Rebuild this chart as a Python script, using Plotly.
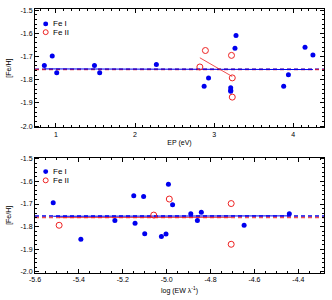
import numpy as np
import plotly.graph_objects as go
from plotly.subplots import make_subplots

# Top panel: [Fe/H] vs excitation potential
ep_fe1 = [0.853, 0.953, 1.01, 1.487, 1.553, 2.27, 3.277, 3.264, 2.93, 2.874, 3.21, 3.21, 3.21, 3.88, 3.94, 4.15, 4.25]
fe1_top = [-1.739, -1.698, -1.770, -1.739, -1.770, -1.734, -1.609, -1.664, -1.792, -1.828, -1.835, -1.845, -1.850, -1.828, -1.779, -1.660, -1.693]
ep_fe2 = [2.82, 2.89, 3.22, 3.23, 3.23]
fe2_top = [-1.745, -1.674, -1.695, -1.792, -1.875]

# Bottom panel: [Fe/H] vs log(EW/lambda)
rew_fe1 = [-5.517, -5.391, -5.236, -5.150, -5.144, -5.105, -5.100, -5.024, -5.003, -4.992, -4.973, -4.890, -4.860, -4.842, -4.647, -4.441]
fe1_bot = [-1.695, -1.856, -1.773, -1.664, -1.785, -1.667, -1.831, -1.844, -1.833, -1.613, -1.703, -1.743, -1.773, -1.737, -1.794, -1.743]
rew_fe2 = [-5.490, -5.059, -4.988, -4.706, -4.706]
fe2_bot = [-1.794, -1.749, -1.678, -1.698, -1.878]

y_ticks = [-2.0, -1.9, -1.8, -1.7, -1.6, -1.5]
y_labels = ["-2.0", "-1.9", "-1.8", "-1.7", "-1.6", "-1.5"]
x_top_ticks = [1, 2, 3, 4]
x_top_labels = ["1", "2", "3", "4"]
x_bot_ticks = [-5.6, -5.4, -5.2, -5.0, -4.8, -4.6, -4.4]
x_bot_labels = ["-5.6", "-5.4", "-5.2", "-5.0", "-4.8", "-4.6", "-4.4"]
legend_names = ["Fe I", "Fe II"]

BLUE = "#0000ee"
RED = "#ee2222"
FONT = "Liberation Sans"

fig = make_subplots(rows=2, cols=1, vertical_spacing=0.115)

def add_panel(row, x1, y1, x2, y2, xr):
    x1 = np.array(x1); y1 = np.array(y1); x2 = np.array(x2); y2 = np.array(y2)
    m1 = y1.mean(); m2 = y2.mean()
    fig.add_trace(go.Scatter(x=xr, y=[m1, m1], mode="lines", line=dict(color=BLUE, width=1.5, dash="4px,3px"),
                             showlegend=False, hoverinfo="skip"), row=row, col=1)
    fig.add_trace(go.Scatter(x=xr, y=[m2, m2], mode="lines", line=dict(color=RED, width=1.5, dash="4px,3px"),
                             showlegend=False, hoverinfo="skip", opacity=0.8), row=row, col=1)
    p1 = np.polyfit(x1, y1, 1)
    fx1 = np.array([x1.min(), x1.max()])
    fig.add_trace(go.Scatter(x=fx1, y=np.polyval(p1, fx1), mode="lines", line=dict(color=BLUE, width=1),
                             showlegend=False, hoverinfo="skip"), row=row, col=1)
    p2 = np.polyfit(x2, y2, 1)
    fx2 = np.array([x2.min(), x2.max()])
    fig.add_trace(go.Scatter(x=fx2, y=np.polyval(p2, fx2), mode="lines", line=dict(color=RED, width=1),
                             showlegend=False, hoverinfo="skip", opacity=0.8), row=row, col=1)
    fig.add_trace(go.Scatter(x=x1, y=y1, mode="markers", name=legend_names[0],
                             marker=dict(color=BLUE, size=5, symbol="circle"),
                             showlegend=False), row=row, col=1)
    fig.add_trace(go.Scatter(x=x2, y=y2, mode="markers", name=legend_names[1],
                             marker=dict(color=RED, size=6, symbol="circle-open", line=dict(width=1)),
                             showlegend=False), row=row, col=1)

add_panel(1, ep_fe1, fe1_top, ep_fe2, fe2_top, [0.735, 4.39])
add_panel(2, rew_fe1, fe1_bot, rew_fe2, fe2_bot, [-5.6, -4.283])

# legends drawn as small key inside each panel
for xref, yref, ys in (("x domain", "y domain", (0.874, 0.804)), ("x2 domain", "y2 domain", (0.879, 0.803))):
    rx, ry = 0.0086, 2.5 / (121 if yref == "y domain" else 118)
    fig.add_shape(type="circle", xref=xref, yref=yref, x0=0.037 - rx, x1=0.037 + rx,
                  y0=ys[0] - ry, y1=ys[0] + ry, fillcolor=BLUE, line=dict(color=BLUE, width=0))
    fig.add_shape(type="circle", xref=xref, yref=yref, x0=0.037 - rx, x1=0.037 + rx,
                  y0=ys[1] - ry, y1=ys[1] + ry, fillcolor="rgba(0,0,0,0)", line=dict(color=RED, width=1))
    for name, yy in zip(legend_names, ys):
        fig.add_annotation(xref=xref, yref=yref, x=0.055, y=yy, text=name, showarrow=False,
                           xanchor="left", yanchor="middle",
                           font=dict(family=FONT, size=8, color="black"))

axis_common = dict(showline=True, linecolor="black", linewidth=1, mirror="ticks", ticks="inside",
                   ticklen=4, tickcolor="black", showgrid=False, zeroline=False,
                   tickfont=dict(family=FONT, size=7, color="black"))

fig.update_xaxes(range=[0.735, 4.39], tickvals=x_top_ticks, ticktext=x_top_labels,
                 minor=dict(ticks="inside", ticklen=2, dtick=0.1, tickcolor="black", showgrid=False),
                 title=dict(text="EP (eV)", font=dict(family=FONT, size=7, color="black"), standoff=3),
                 row=1, col=1, **axis_common)
fig.update_xaxes(range=[-5.6, -4.283], tickvals=x_bot_ticks, ticktext=x_bot_labels,
                 minor=dict(ticks="inside", ticklen=2, dtick=0.05, tick0=-5.6, tickcolor="black", showgrid=False),
                 title=dict(text="log (EW λ<sup>-1</sup>)", font=dict(family=FONT, size=7, color="black"), standoff=5),
                 row=2, col=1, **axis_common)
for r in (1, 2):
    fig.update_yaxes(range=[-2.005, -1.495], tickvals=y_ticks, ticktext=y_labels,
                     minor=dict(ticks="inside", ticklen=2, dtick=0.02, tick0=-2.0, tickcolor="black", showgrid=False),
                     title=dict(text="[Fe/H]", font=dict(family=FONT, size=7, color="black"), standoff=8),
                     row=r, col=1, **axis_common)

fig.update_layout(
    width=332, height=300,
    margin=dict(l=35, r=7, t=8, b=22),
    paper_bgcolor="white", plot_bgcolor="white",
    showlegend=False,
)
fig.update_yaxes(domain=[0.552, 1.0], row=1, col=1)
fig.update_yaxes(domain=[0.0, 0.437], row=2, col=1)

fig.write_html("out.html")
